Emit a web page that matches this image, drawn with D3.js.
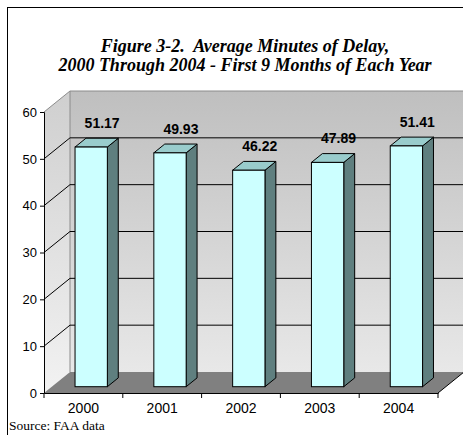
<!DOCTYPE html>
<html>
<head>
<meta charset="utf-8">
<script src="https://cdn.jsdelivr.net/npm/d3@7"></script>
<style>
  html, body { margin: 0; padding: 0; background: #fff; }
  svg { display: block; }
</style>
</head>
<body>
<svg id="chart" width="463" height="435"></svg>
<script>
// Average minutes of delay, first 9 months of each year
const years = ["2000", "2001", "2002", "2003", "2004"];
const delays = [51.17, 49.93, 46.22, 47.89, 51.41];
const yTicks = [0, 10, 20, 30, 40, 50, 60];
const titleLines = [
  "Figure 3-2.  Average Minutes of Delay,",
  "2000 Through 2004 - First 9 Months of Each Year"
];
const sourceNote = "Source: FAA data";

const svg = d3.select("#chart");
const sans = "'Liberation Sans', Arial, sans-serif";
const serif = "'Liberation Serif', 'Times New Roman', serif";

// 3-D box geometry: front plane plus a receding depth offset
const depthX = 26, depthY = 21;
const barFront = 0.3, barBack = 0.72;   // bar position within the depth

const x = d3.scaleBand().domain(years).range([44, 438]).padding(0);
const y = d3.scaleLinear().domain([0, 60]).range([393, 112]);
const barW = x.bandwidth() * 0.41;

// outer frame
svg.append("rect")
  .attr("x", 7.5).attr("y", 7.5).attr("width", 480).attr("height", 460)
  .attr("fill", "none").attr("stroke", "#000").attr("stroke-width", 1);

// title
svg.append("text")
  .attr("x", 245).attr("y", 52)
  .attr("text-anchor", "middle")
  .style("font-family", serif).style("font-size", "18px")
  .style("font-weight", "bold").style("font-style", "italic")
  .style("white-space", "pre")
  .selectAll("tspan").data(titleLines).join("tspan")
  .attr("x", 245).attr("dy", (d, i) => i === 0 ? 0 : 19)
  .text(d => d);

const defs = svg.append("defs");
const backGrad = defs.append("linearGradient").attr("id", "backWall")
  .attr("x1", 0).attr("y1", 0).attr("x2", 0).attr("y2", 1);
backGrad.append("stop").attr("offset", "0%").attr("stop-color", "#bfbfbf");
backGrad.append("stop").attr("offset", "100%").attr("stop-color", "#e8e8e8");
const sideGrad = defs.append("linearGradient").attr("id", "sideWall")
  .attr("x1", 0).attr("y1", 0).attr("x2", 0).attr("y2", 1);
sideGrad.append("stop").attr("offset", "0%").attr("stop-color", "#cfcfcf");
sideGrad.append("stop").attr("offset", "100%").attr("stop-color", "#f2f2f2");

const x0 = x.range()[0], x1 = x.range()[1];
const yTop = y(60), yBase = y(0);

// back wall
svg.append("rect")
  .attr("x", x0 + depthX).attr("y", yTop - depthY)
  .attr("width", x1 - x0).attr("height", yBase - yTop)
  .attr("fill", "url(#backWall)");
// left side wall
svg.append("polygon")
  .attr("points", [[x0, yBase], [x0, yTop], [x0 + depthX, yTop - depthY], [x0 + depthX, yBase - depthY]].join(" "))
  .attr("fill", "url(#sideWall)");

// wall edges
svg.append("path")
  .attr("d", `M${x0},${yTop}L${x0 + depthX},${yTop - depthY}L${x1 + depthX},${yTop - depthY}M${x0 + depthX},${yTop - depthY}L${x0 + depthX},${yBase - depthY}`)
  .attr("fill", "none").attr("stroke", "#8c8c8c").attr("stroke-width", 1);

// gridlines on the back and side walls
const grid = yTicks.filter(v => v > 0 && v < 60);
svg.append("g").selectAll("path").data(grid).join("path")
  .attr("d", v => `M${x0},${y(v)}L${x0 + depthX},${y(v) - depthY}L${x1 + depthX},${y(v) - depthY}`)
  .attr("fill", "none").attr("stroke", "#000").attr("stroke-width", 1);

// floor
svg.append("polygon")
  .attr("points", [[x0, yBase], [x1, yBase], [x1 + depthX, yBase - depthY], [x0 + depthX, yBase - depthY]].join(" "))
  .attr("fill", "#808080");
svg.append("path")
  .attr("d", `M${x1},${yBase}L${x1 + depthX},${yBase - depthY}`)
  .attr("stroke", "#000").attr("stroke-width", 1);

// value axis
const yAxis = svg.append("g").attr("transform", `translate(${x0},0)`)
  .call(d3.axisLeft(y).tickValues(yTicks).tickSize(4).tickPadding(3).tickFormat(d3.format("d")));
yAxis.select(".domain").attr("stroke", "#000");
yAxis.selectAll("text").style("font-family", sans).style("font-size", "13px").attr("fill", "#000");

// category axis with ticks between categories
const xAxis = svg.append("g").attr("transform", `translate(0,${yBase})`)
  .call(d3.axisBottom(x).tickSize(0).tickPadding(10));
xAxis.select(".domain").attr("stroke", "#000");
xAxis.selectAll("text").style("font-family", sans).style("font-size", "14px").attr("fill", "#000");
xAxis.selectAll(".sep").data(years.map(d => x(d)).concat([x1])).join("line")
  .attr("class", "sep")
  .attr("x1", d => d).attr("x2", d => d).attr("y1", 0).attr("y2", 5)
  .attr("stroke", "#000");

// bars
const fdx = barFront * depthX, fdy = barFront * depthY;
const ddx = (barBack - barFront) * depthX, ddy = (barBack - barFront) * depthY;
const bars = svg.append("g").selectAll("g").data(years.map((yr, i) => ({ yr, v: delays[i] }))).join("g");
bars.each(function (d) {
  const g = d3.select(this);
  const bx0 = x(d.yr) + (x.bandwidth() - barW) / 2 + fdx;
  const bx1 = bx0 + barW;
  const bTop = y(d.v) - fdy;
  const bBot = y(0) - fdy;
  // side face
  g.append("polygon")
    .attr("points", [[bx1, bTop], [bx1 + ddx, bTop - ddy], [bx1 + ddx, bBot - ddy], [bx1, bBot]].join(" "))
    .attr("fill", "#5f7f7f").attr("stroke", "#000").attr("stroke-width", 1).attr("stroke-linejoin", "round");
  // top face
  g.append("polygon")
    .attr("points", [[bx0, bTop], [bx0 + ddx, bTop - ddy], [bx1 + ddx, bTop - ddy], [bx1, bTop]].join(" "))
    .attr("fill", "#99cccc").attr("stroke", "#000").attr("stroke-width", 1).attr("stroke-linejoin", "round");
  // front face
  g.append("rect")
    .attr("x", bx0).attr("y", bTop).attr("width", barW).attr("height", bBot - bTop)
    .attr("fill", "#ccffff").attr("stroke", "#000").attr("stroke-width", 1);
  // value label
  g.append("text")
    .attr("x", bx0 + barW / 2 + ddx).attr("y", bTop - 19)
    .attr("text-anchor", "middle")
    .style("font-family", sans).style("font-size", "14px").style("font-weight", "bold")
    .text(d3.format(".2f")(d.v));
});

// source note
svg.append("text")
  .attr("x", 9).attr("y", 430)
  .style("font-family", serif).style("font-size", "13.5px")
  .text(sourceNote);
</script>
</body>
</html>
